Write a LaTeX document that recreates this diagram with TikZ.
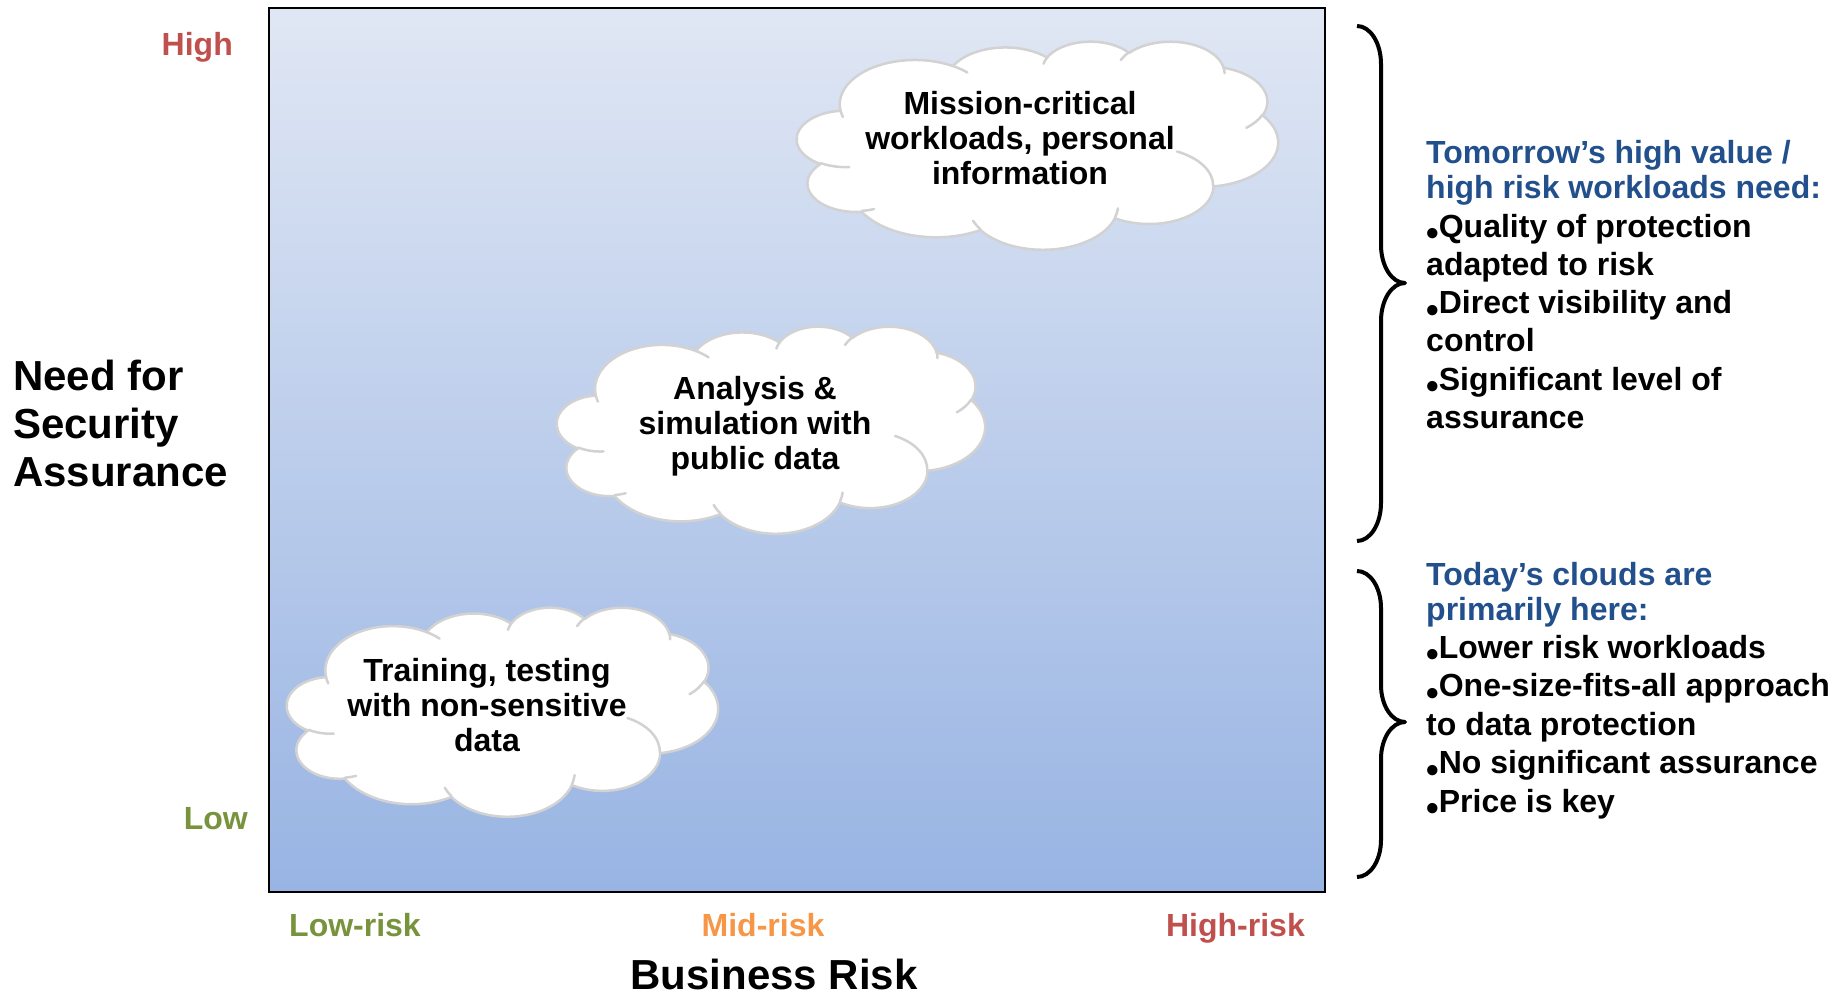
\documentclass[tikz,border=0pt]{standalone}
\usepackage{fontspec}
\setmainfont{Liberation Sans}
\definecolor{hired}{HTML}{C0504D}
\definecolor{logreen}{HTML}{77933C}
\definecolor{midorange}{HTML}{F79646}
\definecolor{headblue}{HTML}{22508C}
\definecolor{gradtop}{HTML}{E0E7F4}
\definecolor{gradbot}{HTML}{98B4E3}
\definecolor{cloudedge}{HTML}{D2D2D2}
\tikzset{
  ooarc/.code n args={4}{%
    \pgfmathsetmacro\ooSa{#3}%
    \pgfmathsetmacro\ooEa{#3+#4}%
    \pgfmathsetmacro\ooSd{atan2((#1)*sin(\ooSa),(#2)*cos(\ooSa))-(\ooSa)}%
    \pgfmathsetmacro\ooEd{atan2((#1)*sin(\ooEa),(#2)*cos(\ooEa))-(\ooEa)}%
    \pgfmathsetmacro\ooS{\ooSa+(\ooSd)-360*round((\ooSd)/360)}%
    \pgfmathsetmacro\ooE{\ooEa+(\ooEd)-360*round((\ooEd)/360)}%
    \pgfkeysalso{x radius=#1,y radius=#2,start angle=\ooS,end angle=\ooE}},
  cloudbody/.style={draw=cloudedge,fill=white,line width=2.5pt,line join=round},
  cloudfold/.style={draw=cloudedge,line width=2.5pt,line cap=round},
  cloudtext/.style={align=center,inner sep=0,font=\bfseries\fontsize{32}{35}\selectfont},
  rt/.style={anchor=base west,inner sep=0,font=\bfseries\fontsize{32}{36}\selectfont},
  hd/.style={rt,text=headblue},
  axlbl/.style={inner sep=0,font=\bfseries\fontsize{32}{36}\selectfont},
  bigtitle/.style={inner sep=0,font=\bfseries\fontsize{42}{48}\selectfont},
  bracestyle/.style={draw=black,line width=4pt,line join=round},
}
\newcommand\bul{\raisebox{-8.5pt}{\fontsize{36}{36}\selectfont •}}
\newcommand\cloudshape[4]{%
  \begin{scope}[shift={(#1,#2)},x=#3pt,y=-#4pt]
    \draw[cloudbody] (3.900,14.370)
      arc[ooarc={6.753}{9.190}{-190.487483}{123.780533}]
      arc[ooarc={5.333}{7.267}{-144.102383}{89.945233}]
      arc[ooarc={4.365}{5.945}{-145.807917}{99.723017}]
      arc[ooarc={4.857}{6.595}{-130.986067}{117.241733}]
      arc[ooarc={5.333}{7.273}{-78.708883}{109.026917}]
      arc[ooarc={6.775}{9.220}{-46.26725}{130.269}]
      arc[ooarc={5.785}{7.867}{0.625017}{114.033333}]
      arc[ooarc={6.752}{9.215}{22.4516}{115.17255}]
      arc[ooarc={7.720}{10.543}{66.242633}{75.711017}]
      arc[ooarc={4.360}{5.918}{-274.942083}{146.735567}]
      arc[ooarc={4.345}{5.945}{-246.8285}{152.522617}]
      -- cycle;
    \draw[cloudfold]
      (4.693,26.177) arc[ooarc={4.345}{5.945}{86.742}{26.4295}]
      (6.928,34.899) arc[ooarc={4.360}{5.918}{73.610467}{11.447467}]
      (16.478,39.090) arc[ooarc={6.752}{9.215}{137.62415}{14.0811}]
      (28.827,34.751) arc[ooarc={6.752}{9.215}{6.453267}{15.99835}]
      (34.129,22.954) arc[ooarc={5.785}{7.867}{-70.29235}{70.917367}]
      (41.798,15.354) arc[ooarc={5.333}{7.273}{30.318033}{27.7515}]
      (38.324,5.426) arc[ooarc={4.857}{6.595}{-13.744333}{14.8589}]
      (29.078,3.952) arc[ooarc={4.857}{6.595}{-149.18145}{18.195367}]
      (22.141,4.720) arc[ooarc={4.365}{5.945}{-163.494267}{17.68635}]
      (14.000,5.192) arc[ooarc={6.753}{9.190}{-66.70695}{12.31935}]
      (4.127,15.789) arc[ooarc={6.753}{9.190}{157.65435}{11.858167}];
  \end{scope}}
\begin{document}
\begin{tikzpicture}[x=1pt,y=-1pt]
\useasboundingbox (0,0) rectangle (1842,995);
% chart area
\draw[line width=2pt,top color=gradtop,bottom color=gradbot] (269,8) rectangle (1325,892);
% clouds
\cloudshape{797}{41}{11.134}{4.815}
\cloudshape{557}{326}{9.907}{4.792}
\cloudshape{287}{607}{9.977}{4.838}
\node[cloudtext] (c1) at (1020,138) {Mission-critical\\workloads, personal\\information};
\node[cloudtext] (c2) at (755,426) {Analysis \&\\simulation with\\public data};
\node[cloudtext] (c3) at (487,705) {Training, testing\\with non-sensitive\\data};
% axis labels
\node[axlbl,anchor=base east,text=hired] (yhigh) at (233,56) {High};
\node[axlbl,anchor=base east,text=logreen] (ylow) at (248,829) {Low};
\node[axlbl,anchor=base west,text=logreen] (xlow) at (289,936) {Low-risk};
\node[axlbl,anchor=base,text=midorange] (xmid) at (763,936) {Mid-risk};
\node[axlbl,anchor=base east,text=hired] (xhigh) at (1305,936) {High-risk};
\node[bigtitle,anchor=north west,align=left] (ytitle) at (13,360) {Need for\\Security\\Assurance};
\node[bigtitle,anchor=base,text depth=0pt] (xtitle) at (774,989.5) {Business Risk};
% braces
\draw[bracestyle] (1357,26) arc[start angle=-90,end angle=0,x radius=24,y radius=38]
  -- (1381,245) arc[start angle=180,end angle=90,x radius=24,y radius=38]
  arc[start angle=270,end angle=180,x radius=24,y radius=38]
  -- (1381,503) arc[start angle=0,end angle=90,x radius=24,y radius=38];
\draw[bracestyle] (1357,571) arc[start angle=-90,end angle=0,x radius=24,y radius=37]
  -- (1381,685) arc[start angle=180,end angle=90,x radius=24,y radius=37]
  arc[start angle=270,end angle=180,x radius=24,y radius=37]
  -- (1381,840) arc[start angle=0,end angle=90,x radius=24,y radius=37];
% right text, upper block
\node[hd] (a1) at (1426,164) {Tomorrow’s high value /};
\node[hd] (a2) at (1426,198.5) {high risk workloads need:};
\node[rt] (a3) at (1426,237) {\bul Quality of protection};
\node[rt] (a4) at (1426,275.3) {adapted to risk};
\node[rt] (a5) at (1426,313.6) {\bul Direct visibility and};
\node[rt] (a6) at (1426,351.9) {control};
\node[rt] (a7) at (1426,390.2) {\bul Significant level of};
\node[rt] (a8) at (1426,428.5) {assurance};
% right text, lower block
\node[hd] (b1) at (1426,585) {Today’s clouds are};
\node[hd] (b2) at (1426,620) {primarily here:};
\node[rt] (b3) at (1426,658) {\bul Lower risk workloads};
\node[rt] (b4) at (1426,696.5) {\bul One-size-fits-all approach};
\node[rt] (b5) at (1426,735) {to data protection};
\node[rt] (b6) at (1426,773.5) {\bul No significant assurance};
\node[rt] (b7) at (1426,812) {\bul Price is key};
\end{tikzpicture}
\end{document}
